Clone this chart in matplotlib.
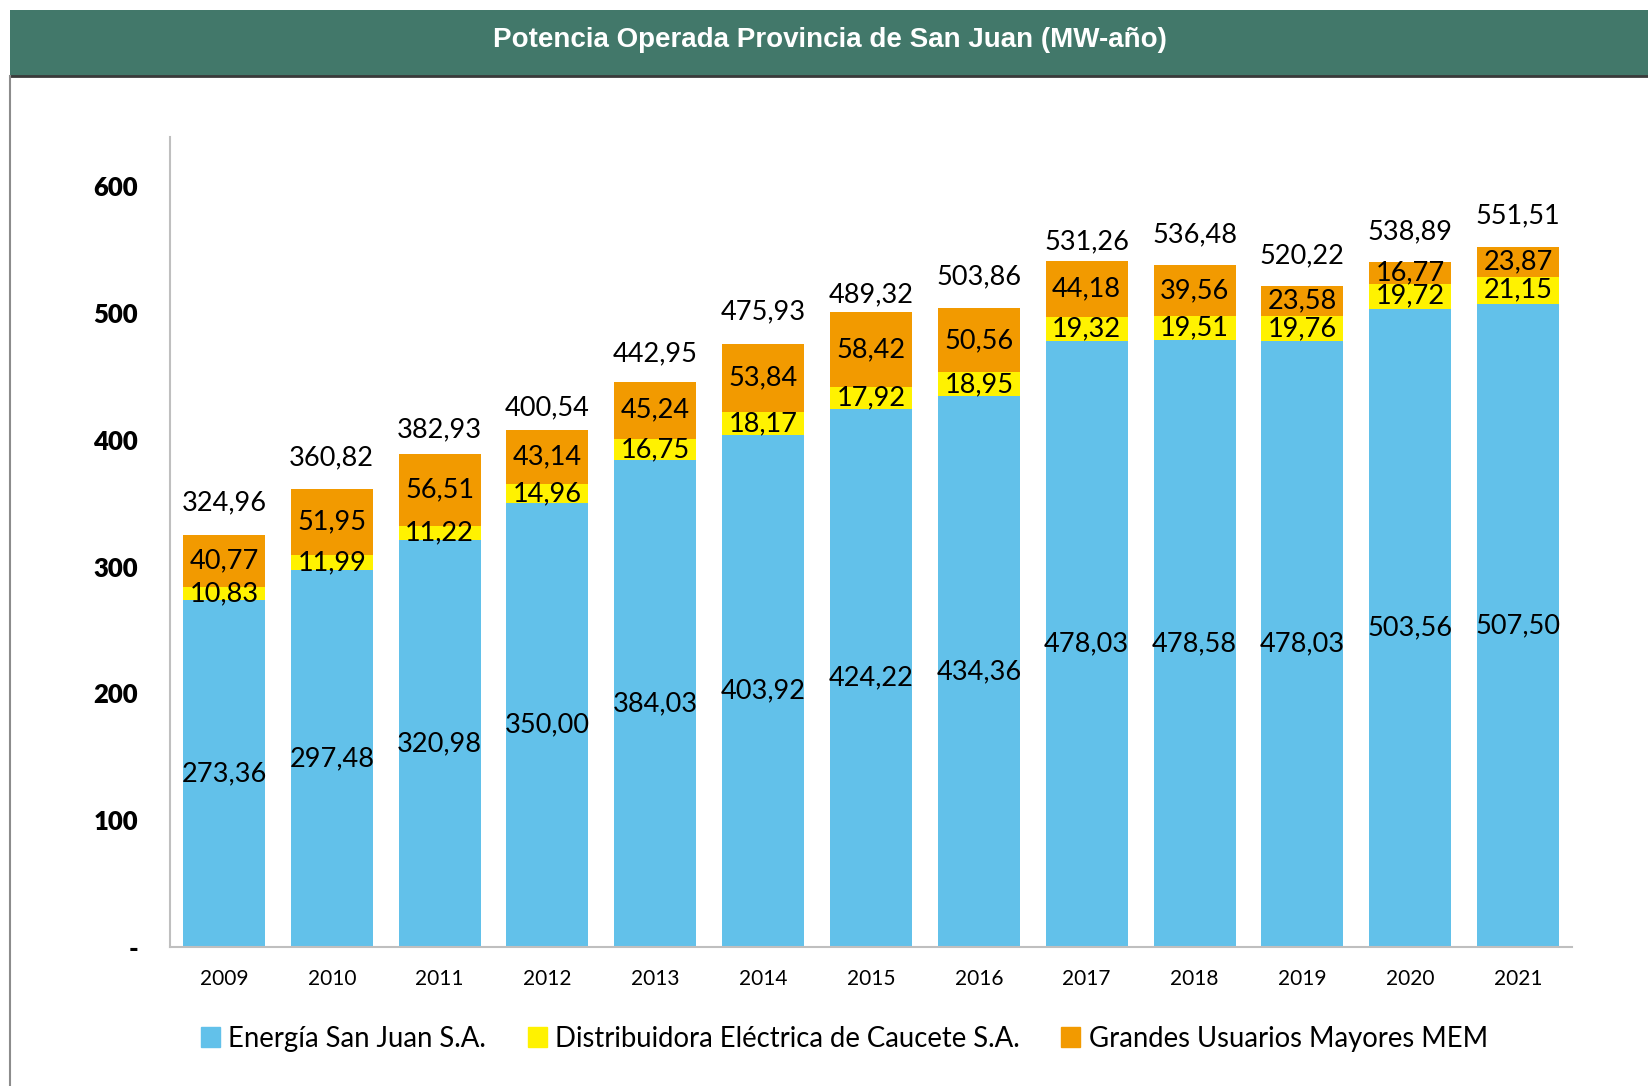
import matplotlib
matplotlib.use('Agg')
import matplotlib.pyplot as plt
from matplotlib.patches import Rectangle, Patch
from matplotlib.lines import Line2D
import numpy as np

years = ['2009', '2010', '2011', '2012', '2013', '2014', '2015',
         '2016', '2017', '2018', '2019', '2020', '2021']
energia = [273.36, 297.48, 320.98, 350.00, 384.03, 403.92, 424.22,
           434.36, 478.03, 478.58, 478.03, 503.56, 507.50]
caucete = [10.83, 11.99, 11.22, 14.96, 16.75, 18.17, 17.92,
           18.95, 19.32, 19.51, 19.76, 19.72, 21.15]
grandes = [40.77, 51.95, 56.51, 43.14, 45.24, 53.84, 58.42,
           50.56, 44.18, 39.56, 23.58, 16.77, 23.87]
totales = [324.96, 360.82, 382.93, 400.54, 442.95, 475.93, 489.32,
           503.86, 531.26, 536.48, 520.22, 538.89, 551.51]

series = ['Energía San Juan S.A.', 'Distribuidora Eléctrica de Caucete S.A.',
          'Grandes Usuarios Mayores MEM']
colores = ['#62C1EA', '#FFF200', '#F29A00']

FONT = ['Lato', 'DejaVu Sans']
plt.rcParams['font.family'] = FONT

def fmt(v):
    return f'{v:.2f}'.replace('.', ',')

W, H = 1649, 1086
fig = plt.figure(figsize=(W / 100, H / 100), dpi=100)

# header band + frame
fig.patches.append(Rectangle((10 / W, 1 - 76 / H), 1 - 10 / W, 66 / H,
                             transform=fig.transFigure, facecolor='#42786A',
                             edgecolor='none', zorder=0))
fig.lines.append(Line2D([10 / W, 1], [1 - 76 / H, 1 - 76 / H], transform=fig.transFigure,
                        color='#3A3A3A', lw=2))
fig.lines.append(Line2D([10.5 / W, 10.5 / W], [0, 1 - 76 / H], transform=fig.transFigure,
                        color='#8C8C8C', lw=1.5))
fig.text(830 / W, 1 - 40 / H, 'Potencia Operada Provincia de San Juan (MW-año)',
         ha='center', va='center', color='white', fontsize=20, fontweight='heavy',
         family=['Liberation Sans Narrow', 'Liberation Sans', 'DejaVu Sans'])

ax = fig.add_axes([170 / W, 139 / H, 1402 / W, 810 / H])
x = np.arange(len(years))
e = np.array(energia)
c = np.array(caucete)
g = np.array(grandes)
bw = 0.76
ax.bar(x, e, bw, color=colores[0], label=series[0], zorder=2)
ax.bar(x, c, bw, bottom=e, color=colores[1], label=series[1], zorder=2)
ax.bar(x, g, bw, bottom=e + c, color=colores[2], label=series[2], zorder=2)

fs = 19.5
for i in range(len(years)):
    ax.text(x[i], e[i] / 2, fmt(e[i]), ha='center', va='center', fontsize=fs)
    ax.text(x[i], e[i] + c[i] / 2, fmt(c[i]), ha='center', va='center', fontsize=fs)
    ax.text(x[i], e[i] + c[i] + g[i] / 2, fmt(g[i]), ha='center', va='center', fontsize=fs)
    ax.annotate(fmt(totales[i]), (x[i], totales[i]), xytext=(0, 14),
                textcoords='offset points', ha='center', va='bottom', fontsize=fs)

ax.set_xlim(-0.5, len(years) - 0.5)
ax.set_ylim(0, 639)
ax.set_yticks([0, 100, 200, 300, 400, 500, 600])
ax.set_yticklabels(['-', '100', '200', '300', '400', '500', '600'],
                   fontsize=18.5, fontweight='heavy')
ax.set_xticks(x)
ax.set_xticklabels(years, fontsize=15)
ax.tick_params(axis='y', length=0, pad=23)
ax.tick_params(axis='x', length=0, pad=16)
for s in ['top', 'right']:
    ax.spines[s].set_visible(False)
for s in ['left', 'bottom']:
    ax.spines[s].set_color('#BFBFBF')
    ax.spines[s].set_linewidth(1.5)

ax.legend(handles=[Patch(color=colores[k], label=series[k]) for k in range(3)],
          loc='center', bbox_to_anchor=(0.481, -0.113), ncol=3, frameon=False,
          fontsize=19.8, handlelength=0.7, handleheight=0.7, handletextpad=0.3,
          columnspacing=1.5)

fig.savefig('out.png', dpi=100)
